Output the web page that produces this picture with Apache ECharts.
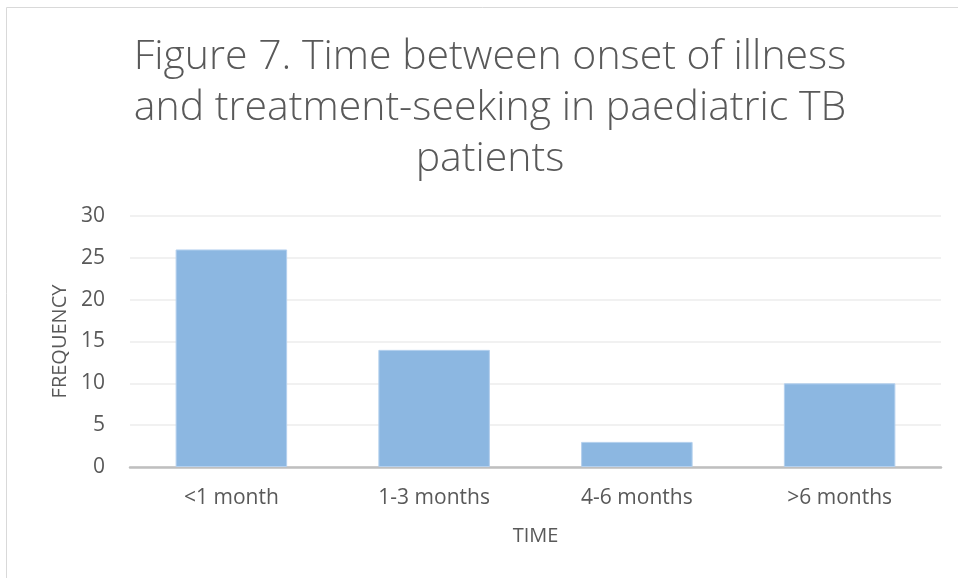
<!DOCTYPE html>
<html>
<head>
<meta charset="utf-8">
<script src="https://cdn.jsdelivr.net/npm/echarts@6/dist/echarts.min.js"></script>
<style>
  html, body { margin: 0; padding: 0; background: #fff; }
  #main { width: 958px; height: 578px; }
</style>
</head>
<body>
<div id="main"></div>
<script>
// data
var categories = ['<1 month', '1-3 months', '4-6 months', '>6 months'];
var frequency = [26, 14, 3, 10];
var yTicks = [0, 5, 10, 15, 20, 25, 30];

var myChart = echarts.init(document.getElementById('main'));
var textColor = '#595959';

myChart.setOption({
  animation: false,
  graphic: [{
    type: 'rect',
    shape: { x: 6.5, y: 7.5, width: 1000, height: 1000 },
    style: { fill: 'none', stroke: '#d9d9d9', lineWidth: 1 }
  }],
  title: {
    text: 'Figure 7. Time between onset of illness\nand treatment-seeking in paediatric TB\npatients',
    left: 485,
    top: 27,
    textAlign: 'center',
    textStyle: {
      fontFamily: 'Open Sans',
      fontWeight: 300,
      fontSize: 41,
      lineHeight: 51,
      color: textColor
    }
  },
  grid: { left: 130, right: 17, top: 216, bottom: 111, containLabel: false },
  xAxis: {
    type: 'category',
    data: categories,
    name: 'TIME',
    nameLocation: 'middle',
    nameGap: 59,
    nameTextStyle: { fontFamily: 'Open Sans', fontSize: 20, color: textColor },
    axisLine: { lineStyle: { color: '#bfbfbf', width: 2.5 } },
    axisTick: { show: false },
    axisLabel: { margin: 21, fontFamily: 'Open Sans', fontSize: 21, color: textColor }
  },
  yAxis: {
    type: 'value',
    min: yTicks[0],
    max: yTicks[yTicks.length - 1],
    interval: 5,
    name: 'FREQUENCY',
    nameLocation: 'middle',
    nameRotate: 90,
    nameGap: 60,
    nameTextStyle: { fontFamily: 'Open Sans', fontSize: 20, color: textColor },
    axisLine: { show: false },
    axisTick: { show: false },
    axisLabel: { margin: 25, fontFamily: 'Open Sans', fontSize: 21, color: textColor }
    ,
    splitLine: { lineStyle: { color: '#ececec', width: 1.5 } }
  },
  series: [{
    name: 'Frequency',
    type: 'bar',
    data: frequency,
    barWidth: '55%',
    itemStyle: { color: '#8cb7e1', borderColor: '#b4d0ee', borderWidth: 1 }
  }]
});
</script>
</body>
</html>
